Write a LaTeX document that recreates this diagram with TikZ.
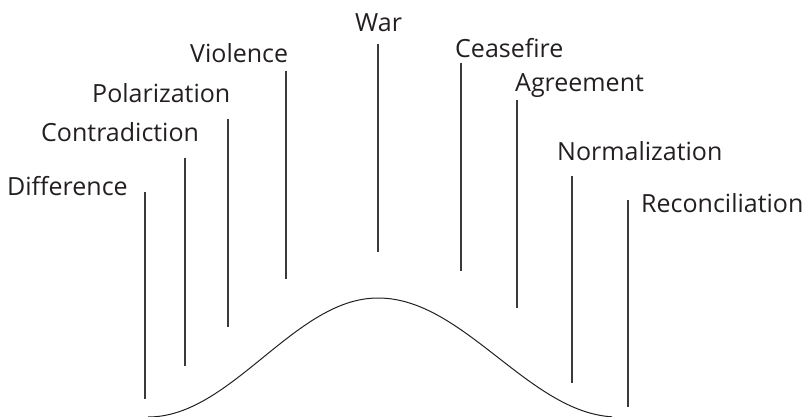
\documentclass[tikz,border=0pt]{standalone}
\usepackage{fontspec}
\setmainfont{Open Sans}
\definecolor{ink}{HTML}{231F20}
\definecolor{stem}{HTML}{3A3A3A}
\tikzset{
  stage/.style={anchor=base west, inner sep=0pt, text=ink, font=\fontsize{25}{30}\selectfont},
  pole/.style={draw=stem, line width=1.2pt},
}
\begin{document}
\begin{tikzpicture}[x=1pt, y=-1pt]
\useasboundingbox (0,0) rectangle (808,417);

% Labels
\node[stage] (Dif) at (7,195) {Difference};
\node[stage] (Con) at (41,142) {Contradiction};
\node[stage] (Pol) at (92,103) {Polarization};
\node[stage] (Vio) at (190,63) {Violence};
\node[stage] (War) at (355,32) {War};
\node[stage] (Cea) at (455,58) {Ceasefire};
\node[stage] (Agr) at (515,92) {Agreement};
\node[stage] (Nor) at (557,160) {Normalization};
\node[stage] (Rec) at (641,212) {Reconciliation};

% Line ends
\coordinate (Dif-t) at (145,192); \coordinate (Dif-b) at (145,399);
\coordinate (Con-t) at (185,158); \coordinate (Con-b) at (185,366);
\coordinate (Pol-t) at (228,119); \coordinate (Pol-b) at (228,327);
\coordinate (Vio-t) at (286,71);  \coordinate (Vio-b) at (286,279);
\coordinate (War-t) at (378,44);  \coordinate (War-b) at (378,252);
\coordinate (Cea-t) at (461,63);  \coordinate (Cea-b) at (461,271);
\coordinate (Agr-t) at (517,100); \coordinate (Agr-b) at (517,308);
\coordinate (Nor-t) at (572,176); \coordinate (Nor-b) at (572,383);
\coordinate (Rec-t) at (628,200); \coordinate (Rec-b) at (628,407);

\foreach \n in {Dif,Con,Pol,Vio,War,Cea,Agr,Nor,Rec}
  \draw[pole] (\n-t) -- (\n-b);

% Curve
\draw[ink, line width=1pt, smooth, samples=60]
  plot[domain=148:378] (\x,{298+59.5*(1-cos((\x-378)/230*180))})
  -- plot[domain=378:612] (\x,{298+59.5*(1-cos((\x-378)/240*180))});

\end{tikzpicture}
\end{document}
